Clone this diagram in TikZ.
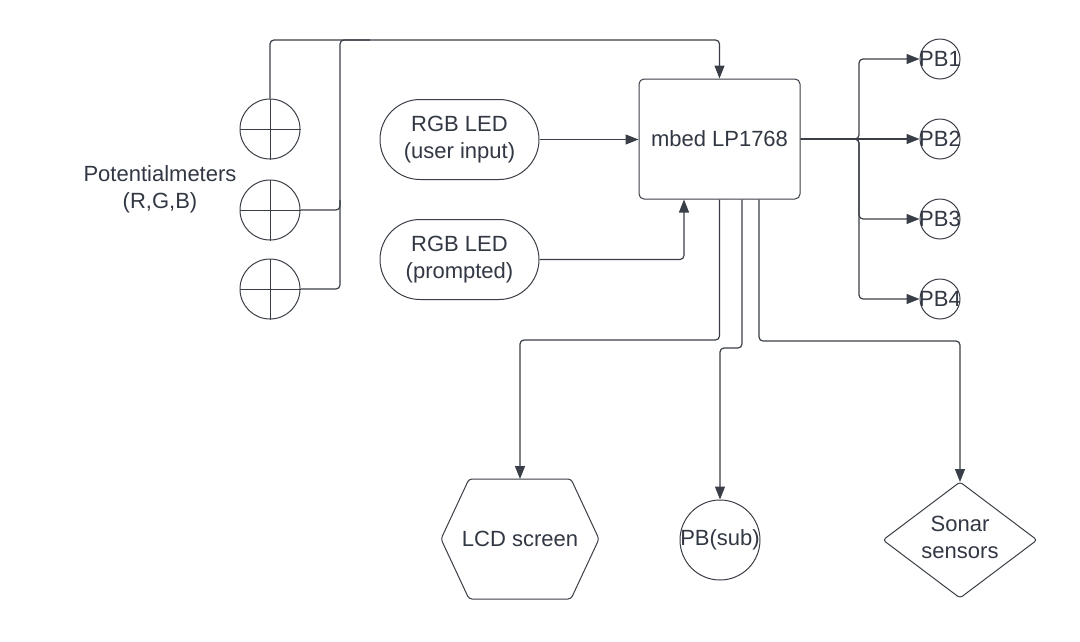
\documentclass[tikz,border=0pt]{standalone}
\usepackage{fontspec}
\setmainfont{Liberation Sans}
\usetikzlibrary{arrows.meta}
\definecolor{ln}{HTML}{3A3F47}
\definecolor{tx}{HTML}{323843}
\tikzset{
  lbl/.style={text=tx, font=\fontsize{22}{27}\selectfont, align=center, inner sep=0pt},
  shp/.style={draw=ln, line width=1pt},
  pot/.style={shp, circle, minimum size=60pt, inner sep=0pt},
  pb/.style={shp, circle, minimum size=40pt, inner sep=0pt},
  pill/.style={shp, lbl, rectangle, rounded corners=40pt, minimum width=159pt, minimum height=80pt},
  board/.style={shp, lbl, rectangle, rounded corners=5pt, minimum width=161pt, minimum height=120pt},
  wire/.style={draw=ln, line width=1.2pt, rounded corners=4pt},
  conn/.style={wire, -{Triangle[length=13pt,width=10pt]}},
}
\begin{document}
\begin{tikzpicture}[x=1pt,y=-1pt]
\fill[white] (0,0) rectangle (1080,641);
\useasboundingbox (0,0) rectangle (1080,641);

% potentiometers
\node[pot] (p1) at (270,129) {};
\node[pot] (p2) at (270,210) {};
\node[pot] (p3) at (270,289) {};
\foreach \p in {p1,p2,p3}{
  \draw[shp] (\p.north) -- (\p.south) (\p.west) -- (\p.east);
}
\node[lbl] (potlbl) at (160,189) {Potentialmeters\\(R,G,B)};

% LEDs and board
\node[pill] (led1) at (459.5,139.5) {RGB LED\\(user input)};
\node[pill] (led2) at (459.5,259.5) {RGB LED\\(prompted)};
\node[board] (mbed) at (719.5,139) {mbed LP1768};

% push buttons right
\node[pb, label={[lbl]center:PB1}] (pb1) at (940,59) {};
\node[pb, label={[lbl]center:PB2}] (pb2) at (940,139) {};
\node[pb, label={[lbl]center:PB3}] (pb3) at (940,219) {};
\node[pb, label={[lbl]center:PB4}] (pb4) at (940,299) {};

% bottom shapes
\node[lbl] (lcd) at (520,539) {LCD screen};
\draw[shp, rounded corners=3pt] (441,539) -- (469,479) -- (571,479) -- (599,539) -- (571,599) -- (469,599) -- cycle;
\coordinate (lcdtop) at (520,479);

\node[pb, minimum size=80pt, label={[lbl]center:PB(sub)}] (pbsub) at (720,540) {};

\node[lbl] (sonar) at (960,537) {Sonar\\sensors};
\draw[shp, rounded corners=3pt] (883,540) -- (960,482) -- (1037,540) -- (960,598) -- cycle;
\coordinate (sonartop) at (960,482);

% connectors
\draw[conn] (p1.north) -- (270,40) -- (719.5,40) -- (mbed.north);
\draw[wire] (p2.east) -- (340,210) -- (340,40) -- (370,40);
\draw[wire] (p3.east) -- (340,289) -- (340,200);

\draw[conn] (led1.east) -- (led1.east -| mbed.west);
\draw[conn] (led2.east) -| ([xshift=-35.5pt]mbed.south);

\draw[conn] (mbed.east) -- (859,139) |- (pb1.west);
\draw[conn] (mbed.east) -- (pb2.west);
\draw[conn] (mbed.east) -- (859,139) |- (pb3.west);
\draw[conn] (mbed.east) -- (859,139) |- (pb4.west);

\draw[conn] (mbed.south) -- (719.5,340) -- (520,340) -- (lcdtop);
\draw[conn] ([xshift=22.5pt]mbed.south) -- (742,348) -- (720,348) -- (pbsub.north);
\draw[conn] ([xshift=39.5pt]mbed.south) -- (759,341) -- (960,341) -- (sonartop);
\end{tikzpicture}
\end{document}
